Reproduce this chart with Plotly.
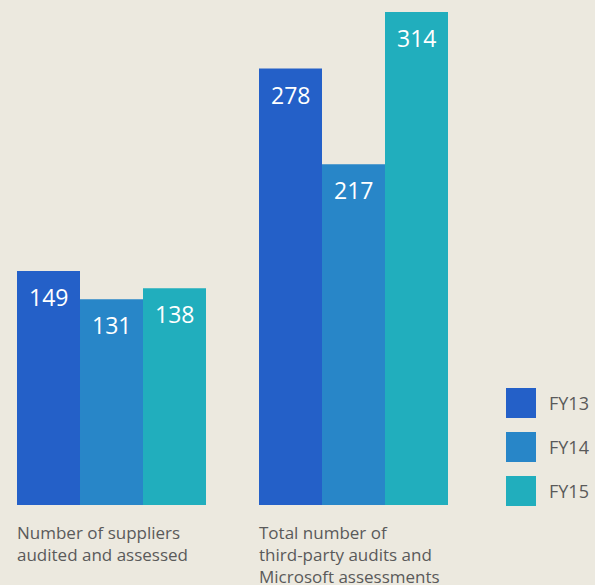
import plotly.graph_objects as go

categories = ["Number of suppliers<br>audited and assessed",
              "Total number of<br>third-party audits and<br>Microsoft assessments"]
years = ["FY13", "FY14", "FY15"]
values = {
    "FY13": [149, 278],
    "FY14": [131, 217],
    "FY15": [138, 314],
}
colors = {"FY13": "#2460C8", "FY14": "#2886C8", "FY15": "#21AEBD"}

W, H = 595, 585
BG = "#ECE9DF"
TEXT_GREY = "#5A5A5A"
FONT = "Open Sans"
bargap = 0.219
bar_w = (1 - bargap) / len(years)

fig = go.Figure()
for i, yr in enumerate(years):
    fig.add_trace(go.Bar(
        x=[0, 1],
        y=values[yr],
        name=yr,
        marker=dict(color=colors[yr], line=dict(width=0)),
        showlegend=False,
        hoverinfo="skip",
    ))
    # value labels inside the top of each bar
    for j, v in enumerate(values[yr]):
        fig.add_annotation(
            x=j + (i - 1) * bar_w, y=v, xref="x", yref="y",
            text=str(v), showarrow=False, yanchor="top", yshift=-8,
            font=dict(family=FONT, size=23, color="white"),
        )

# category labels under each group, left aligned
for j, cat in enumerate(categories):
    fig.add_annotation(
        x=j - (1 - bargap) / 2, y=0, xref="x", yref="paper",
        text=cat, showarrow=False, xanchor="left", yanchor="top",
        align="left", yshift=-14, xshift=-2,
        font=dict(family=FONT, size=17, color=TEXT_GREY),
    )

# legend drawn as squares + labels on the right
plot_h = 505
for i, yr in enumerate(years):
    top = 388 + i * 44
    fig.add_shape(
        type="rect", xref="paper", yref="paper",
        x0=506 / W, x1=536 / W,
        y0=(plot_h - top - 30) / plot_h, y1=(plot_h - top) / plot_h,
        fillcolor=colors[yr], line=dict(width=0),
    )
    fig.add_annotation(
        x=547 / W, y=(plot_h - top - 15) / plot_h, xref="paper", yref="paper",
        text=yr, showarrow=False, xanchor="left", yanchor="middle",
        font=dict(family=FONT, size=18, color=TEXT_GREY),
    )

px_per_unit = 242
fig.update_layout(
    width=W, height=H,
    paper_bgcolor=BG, plot_bgcolor=BG,
    margin=dict(l=0, r=0, t=0, b=80),
    barmode="group", bargap=bargap, bargroupgap=0,
    xaxis=dict(type="linear", range=[-111.5 / px_per_unit, (W - 111.5) / px_per_unit],
               showticklabels=False, showgrid=False, zeroline=False, fixedrange=True),
    yaxis=dict(range=[0, 314 * 505 / 493], showticklabels=False, showgrid=False,
               zeroline=False, fixedrange=True),
    font=dict(family=FONT),
)

fig.write_html("out.html", config={"displayModeBar": False},
               post_script="document.body.style.margin='0';")
